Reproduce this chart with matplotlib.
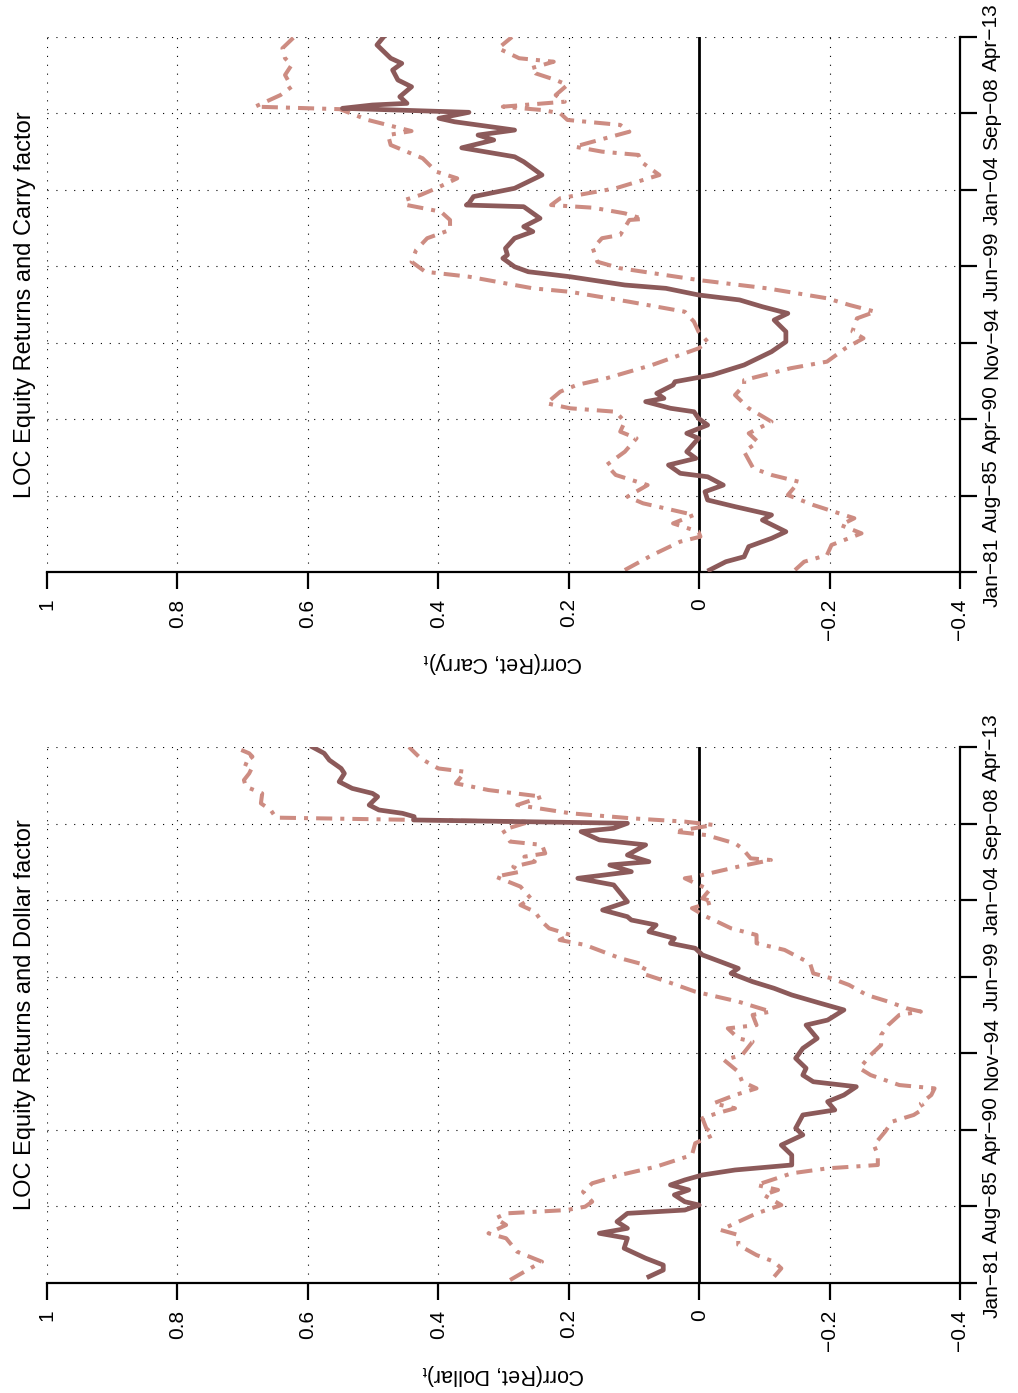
import matplotlib
matplotlib.use("Agg")
import matplotlib.pyplot as plt

plt.rcParams['font.family'] = ['Liberation Sans', 'DejaVu Sans']
plt.rcParams['mathtext.fontset'] = 'custom'
plt.rcParams['mathtext.rm'] = 'Liberation Sans'
plt.rcParams['mathtext.it'] = 'Liberation Sans:italic'

# Ejes
corr_ticks = [1, 0.8, 0.6, 0.4, 0.2, 0, -0.2, -0.4]
corr_labels = ['1', '0.8', '0.6', '0.4', '0.2', '0', '\u22120.2', '\u22120.4']
date_ticks = [1981.0, 1985.607, 1990.214, 1994.821, 1999.429, 2004.036, 2008.643, 2013.25]
date_labels = ['Jan\u221281', 'Aug\u221285', 'Apr\u221290', 'Nov\u221294',
               'Jun\u221299', 'Jan\u221204', 'Sep\u221208', 'Apr\u221213']

# Panel superior: Carry
carry_t = [1981.12, 1981.62, 1981.92, 1982.53, 1983.03, 1983.43, 1984.13, 1984.44, 1984.94,
           1985.34, 1985.84, 1986.24, 1986.74, 1986.95, 1987.45, 1987.85, 1988.25, 1989.06,
           1989.36, 1989.86, 1990.26, 1990.66, 1990.87, 1991.27, 1991.47, 1991.77, 1992.27,
           1992.47, 1992.88, 1993.48, 1994.28, 1994.88, 1995.49, 1996.19, 1996.59, 1996.99,
           1997.40, 1997.70, 1998.10, 1998.30, 1998.80, 1999.10, 1999.40, 1999.91, 2000.11,
           2000.51, 2001.12, 2001.52, 2001.82, 2002.32, 2003.02, 2003.12, 2003.23, 2003.63,
           2004.13, 2004.93, 2005.73, 2006.03, 2006.57, 2007.04, 2007.34, 2007.64, 2008.14,
           2008.35, 2008.71, 2008.95, 2009.15, 2009.25, 2009.65, 2010.25, 2010.66, 2011.26,
           2011.66, 2011.97, 2012.77, 2013.25]
carry = [-0.016, -0.041, -0.069, -0.076, -0.111, -0.133, -0.097, -0.111, -0.055,
         -0.013, -0.009, -0.037, -0.013, 0.029, 0.047, 0.005, 0.019, 0.001,
         0.019, -0.013, 0.001, 0.008, 0.044, 0.082, 0.054, 0.065, 0.040,
         0.037, -0.020, -0.069, -0.111, -0.133, -0.133, -0.115, -0.136, -0.097,
         -0.062, 0.001, 0.051, 0.114, 0.198, 0.262, 0.283, 0.301, 0.294,
         0.297, 0.283, 0.255, 0.269, 0.244, 0.269, 0.357, 0.353, 0.346,
         0.283, 0.241, 0.269, 0.283, 0.364, 0.315, 0.339, 0.283, 0.375,
         0.399, 0.353, 0.547, 0.501, 0.448, 0.459, 0.441, 0.462, 0.470,
         0.456, 0.473, 0.494, 0.484]

carry_up_t = [1981.12, 1982.02, 1982.83, 1983.13, 1983.43, 1983.93, 1984.44, 1985.14, 1985.54,
              1986.24, 1986.85, 1987.45, 1988.25, 1989.06, 1989.46, 1990.06, 1990.66, 1990.87,
              1991.17, 1991.87, 1992.27, 1992.68, 1993.48, 1994.48, 1994.88, 1995.49, 1996.09,
              1996.69, 1997.29, 1997.89, 1998.10, 1998.80, 1999.10, 1999.70, 2000.41, 2001.12,
              2001.62, 2002.22, 2002.72, 2003.12, 2003.42, 2003.73, 2004.13, 2004.73, 2005.13,
              2005.94, 2006.74, 2007.34, 2007.58, 2008.25, 2008.90, 2009.05, 2009.75, 2010.25,
              2010.96, 2011.56, 2011.97, 2012.57, 2013.25]
carry_up = [0.114, 0.072, 0.029, -0.002, 0.001, 0.040, 0.008, 0.086, 0.110,
            0.079, 0.128, 0.142, 0.114, 0.096, 0.121, 0.114, 0.128, 0.198,
            0.234, 0.213, 0.188, 0.142, 0.072, 0.001, -0.013, 0.001, 0.008,
            0.022, 0.107, 0.198, 0.255, 0.353, 0.420, 0.441, 0.434, 0.417,
            0.382, 0.382, 0.396, 0.448, 0.452, 0.427, 0.403, 0.371, 0.403,
            0.424, 0.473, 0.477, 0.441, 0.508, 0.551, 0.681, 0.642, 0.625,
            0.635, 0.625, 0.635, 0.639, 0.621]

carry_lo_t = [1981.12, 1981.62, 1982.02, 1982.63, 1983.33, 1983.83, 1984.24, 1985.04, 1985.64,
              1986.44, 1986.85, 1987.25, 1988.25, 1988.85, 1989.36, 1990.06, 1990.87, 1991.67,
              1992.27, 1992.57, 1993.28, 1993.68, 1994.48, 1995.09, 1995.49, 1996.29, 1996.69,
              1997.09, 1997.50, 1998.10, 1998.60, 1999.31, 1999.70, 2000.51, 2001.12, 2001.32,
              2002.22, 2002.28, 2002.62, 2002.96, 2003.12, 2003.53, 2004.13, 2004.93, 2005.73,
              2006.14, 2006.34, 2006.64, 2007.54, 2007.95, 2008.25, 2008.65, 2008.85, 2009.05,
              2009.35, 2009.75, 2010.36, 2010.66, 2011.06, 2011.36, 2011.76, 2011.97, 2012.57,
              2013.25]
carry_lo = [-0.147, -0.161, -0.196, -0.203, -0.249, -0.217, -0.238, -0.175, -0.136,
            -0.153, -0.111, -0.083, -0.069, -0.090, -0.076, -0.111, -0.076, -0.055,
            -0.069, -0.069, -0.140, -0.196, -0.224, -0.252, -0.235, -0.242, -0.270,
            -0.231, -0.196, -0.104, 0.001, 0.121, 0.156, 0.163, 0.149, 0.121,
            0.107, 0.086, 0.114, 0.163, 0.227, 0.213, 0.128, 0.061, 0.089,
            0.093, 0.149, 0.191, 0.107, 0.121, 0.202, 0.213, 0.241, 0.301,
            0.206, 0.220, 0.202, 0.220, 0.251, 0.258, 0.223, 0.276, 0.308,
            0.287]

# Panel inferior: Dollar
dollar_t = [1981.38, 1981.78, 1982.08, 1982.49, 1983.09, 1983.69, 1983.99, 1984.29, 1984.69,
            1985.19, 1985.39, 1985.69, 1985.89, 1986.30, 1986.60, 1986.90, 1987.20, 1987.50,
            1987.80, 1988.10, 1988.70, 1989.30, 1989.91, 1990.31, 1991.11, 1991.41, 1991.91,
            1992.31, 1992.81, 1993.11, 1993.51, 1993.92, 1994.52, 1995.12, 1995.72, 1996.52,
            1996.82, 1997.43, 1997.83, 1998.33, 1998.73, 1999.13, 1999.63, 1999.93, 2000.33,
            2000.74, 2001.14, 2001.44, 2001.74, 2002.14, 2002.54, 2002.84, 2003.04, 2003.44,
            2003.94, 2004.95, 2005.35, 2005.75, 2006.15, 2006.35, 2006.75, 2007.36, 2007.66,
            2008.16, 2008.36, 2008.66, 2008.86, 2009.06, 2009.26, 2009.46, 2009.76, 2010.26,
            2010.46, 2010.76, 2011.16, 2011.66, 2011.96, 2012.46, 2012.87, 2013.25]
dollar = [0.077, 0.055, 0.055, 0.082, 0.115, 0.110, 0.153, 0.110, 0.126,
          0.110, 0.022, 0.000, 0.022, 0.038, 0.016, 0.044, 0.022, -0.005,
          -0.055, -0.142, -0.142, -0.126, -0.159, -0.148, -0.159, -0.208, -0.197,
          -0.222, -0.241, -0.175, -0.159, -0.164, -0.148, -0.159, -0.181, -0.164,
          -0.197, -0.222, -0.186, -0.142, -0.115, -0.082, -0.049, -0.060, -0.033,
          -0.005, 0.006, 0.044, 0.038, 0.077, 0.066, 0.104, 0.110, 0.148,
          0.110, 0.131, 0.186, 0.104, 0.137, 0.077, 0.110, 0.082, 0.153,
          0.181, 0.131, 0.110, 0.438, 0.437, 0.455, 0.491, 0.506, 0.493,
          0.501, 0.532, 0.552, 0.544, 0.549, 0.567, 0.575, 0.593]

dollar_up_t = [1981.18, 1981.68, 1982.28, 1982.88, 1983.69, 1983.99, 1984.49, 1984.89, 1985.19,
               1985.39, 1985.59, 1985.89, 1986.49, 1987.00, 1987.50, 1988.00, 1988.70, 1989.41,
               1989.91, 1990.31, 1990.91, 1991.21, 1991.51, 1991.81, 1992.31, 1992.71, 1993.11,
               1993.71, 1994.42, 1994.72, 1995.52, 1995.72, 1996.32, 1996.52, 1997.13, 1997.33,
               1997.93, 1998.53, 1999.13, 1999.63, 2000.13, 2000.54, 2000.94, 2001.34, 2001.64,
               2001.94, 2002.34, 2002.74, 2003.34, 2003.74, 2004.14, 2004.85, 2005.45, 2005.75,
               2006.05, 2006.35, 2006.65, 2006.85, 2007.36, 2007.56, 2008.26, 2008.75, 2009.00,
               2009.46, 2009.86, 2010.46, 2010.86, 2011.26, 2011.66, 2012.06, 2012.26, 2012.67,
               2012.87, 2013.25]
dollar_up = [0.290, 0.268, 0.241, 0.279, 0.296, 0.323, 0.296, 0.312, 0.296,
             0.203, 0.175, 0.164, 0.178, 0.164, 0.121, 0.066, 0.011, 0.006,
             -0.022, -0.011, -0.005, -0.027, -0.055, -0.022, -0.055, -0.088, -0.066,
             -0.060, -0.038, -0.066, -0.082, -0.060, -0.044, -0.088, -0.082, -0.110,
             -0.060, 0.006, 0.049, 0.088, 0.082, 0.121, 0.148, 0.175, 0.214,
             0.197, 0.230, 0.241, 0.252, 0.274, 0.258, 0.274, 0.312, 0.274,
             0.285, 0.252, 0.268, 0.236, 0.241, 0.290, 0.301, 0.260, 0.649,
             0.657, 0.672, 0.670, 0.695, 0.698, 0.690, 0.685, 0.698, 0.685,
             0.690, 0.713]

dollar_lo_t = [1981.38, 1981.88, 1982.28, 1982.68, 1983.29, 1983.89, 1984.19, 1984.79, 1985.19,
               1985.69, 1986.30, 1986.60, 1986.90, 1987.60, 1987.90, 1988.10, 1988.70, 1989.30,
               1990.10, 1990.71, 1991.11, 1991.51, 1991.81, 1992.31, 1992.71, 1992.91, 1993.51,
               1993.92, 1994.72, 1995.32, 1995.92, 1996.52, 1997.13, 1997.33, 1997.53, 1997.93,
               1998.33, 1998.93, 1999.33, 1999.63, 2000.24, 2001.04, 2001.44, 2001.94, 2002.34,
               2002.64, 2003.04, 2003.55, 2003.94, 2004.14, 2004.65, 2005.35, 2005.45, 2006.05,
               2006.45, 2006.55, 2007.15, 2007.45, 2007.95, 2008.16, 2008.56, 2008.76, 2008.96,
               2009.26, 2009.76, 2010.26, 2010.66, 2011.06, 2011.76, 2011.96, 2012.56, 2013.25]
dollar_lo = [-0.115, -0.126, -0.115, -0.088, -0.060, -0.060, -0.033, -0.066, -0.088,
             -0.126, -0.099, -0.121, -0.088, -0.142, -0.197, -0.274, -0.274, -0.268,
             -0.285, -0.296, -0.329, -0.345, -0.340, -0.356, -0.361, -0.307, -0.263,
             -0.246, -0.263, -0.279, -0.279, -0.290, -0.307, -0.340, -0.318, -0.290,
             -0.257, -0.230, -0.203, -0.175, -0.170, -0.131, -0.088, -0.088, -0.049,
             -0.033, -0.011, 0.011, -0.022, -0.005, -0.016, 0.022, 0.006, -0.060,
             -0.110, -0.079, -0.066, -0.055, -0.011, 0.038, -0.022, 0.022, 0.104,
             0.197, 0.279, 0.241, 0.323, 0.373, 0.359, 0.400, 0.427, 0.445]

col_main = '#8C5A5A'
col_band = '#CD8C82'

W, H = 1018, 1393
fig = plt.figure(figsize=(W / 100, H / 100), dpi=100)


def panel(top_px, bottom_px, title, ylabel, t, v, up_t, up, lo_t, lo):
    ax = fig.add_axes([47 / W, 1 - bottom_px / H, 913 / W, (bottom_px - top_px) / H])
    ax.grid(True, color='black', lw=0.8, linestyle=(0, (1, 7)), zorder=0)
    ax.axvline(0, color='black', lw=2, zorder=1)
    ax.plot(up, up_t, color=col_band, lw=2.9, dashes=(4, 2, 1, 2), zorder=2)
    ax.plot(lo, lo_t, color=col_band, lw=2.9, dashes=(4, 2, 1, 2), zorder=2)
    ax.plot(v, t, color=col_main, lw=3.4, zorder=3, solid_joinstyle='round')
    ax.set_xlim(1, -0.4)
    ax.set_ylim(1981, 2013.25)
    for s in ['left', 'top']:
        ax.spines[s].set_visible(False)
    for s in ['bottom', 'right']:
        ax.spines[s].set_linewidth(1.6)
    ax.set_xticks(corr_ticks)
    ax.set_xticklabels(corr_labels, rotation=90, rotation_mode='anchor',
                       ha='right', va='center', fontsize=15)
    ax.yaxis.tick_right()
    ax.set_yticks(date_ticks)
    ax.set_yticklabels(date_labels, rotation=90, rotation_mode='anchor',
                       ha='center', va='top', fontsize=15)
    ax.tick_params(axis='x', length=12, width=1.6, pad=7)
    ax.tick_params(axis='y', length=12, width=1.6, pad=4)
    ax.set_axisbelow(True)
    mid = (top_px + bottom_px) / 2
    fig.text(25 / W, 1 - mid / H, title, rotation=90, ha='center', va='center', fontsize=17)
    fig.text(503 / W, 1 - (bottom_px + 91) / H, ylabel, rotation=180,
             ha='center', va='center', fontsize=15.5)
    return ax


panel(37, 572, 'LOC Equity Returns and Carry factor', r'Corr(Ret, Carry)$_\mathrm{t}$',
      carry_t, carry, carry_up_t, carry_up, carry_lo_t, carry_lo)
panel(747, 1283, 'LOC Equity Returns and Dollar factor', r'Corr(Ret, Dollar)$_\mathrm{t}$',
      dollar_t, dollar, dollar_up_t, dollar_up, dollar_lo_t, dollar_lo)

fig.savefig('out.png', dpi=100)
